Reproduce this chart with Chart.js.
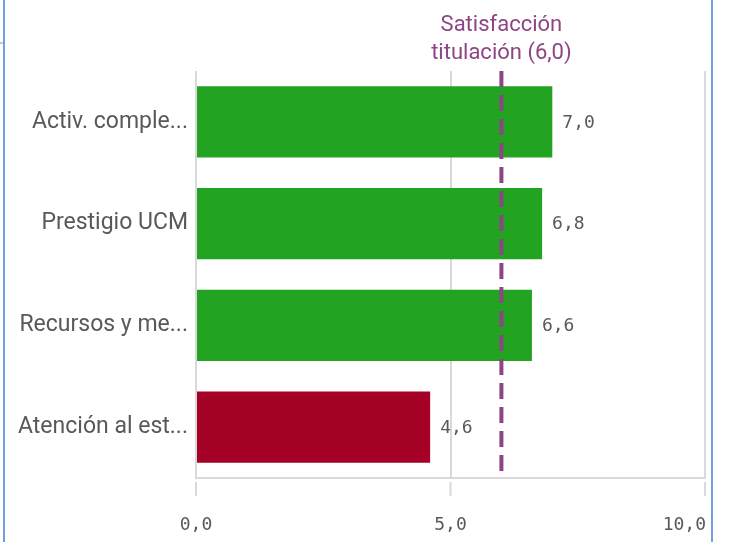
<!DOCTYPE html>
<html>
<head>
<meta charset="utf-8">
<script src="https://cdn.jsdelivr.net/npm/chart.js@4.4.0/dist/chart.umd.min.js"></script>
<style>
    html, body { margin: 0; padding: 0; background: #fff; }
    #wrap { position: relative; width: 736px; height: 542px; }
    #wrap canvas { position: absolute; left: 0; top: 0; }
    .edge { position: absolute; top: 0; width: 2px; height: 542px; background: #6f9fdc; }
    .stub { position: absolute; left: 0; top: 42px; width: 3px; height: 2px; background: #c8c8c8; }
</style>
</head>
<body>
<div id="wrap">
    <canvas id="satChart" width="736" height="542"></canvas>
    <div class="stub"></div>
    <div class="edge" style="left:3px"></div>
    <div class="edge" style="left:711px"></div>
</div>
<script>
const categories = ['Activ. comple...', 'Prestigio UCM', 'Recursos y me...', 'Atención al est...'];
const scores = [7.0, 6.8, 6.6, 4.6];
const barColors = ['#22a322', '#22a322', '#22a322', '#a50026'];
const axisTicks = [0, 5, 10];
const refValue = 6.0;
const refLabel = ['Satisfacción', 'titulación (6,0)'];

const TEXT = '#595959';
const GRID = '#d9d9d9';
const PURPLE = '#8e4585';

const fmt = v => v.toFixed(1).replace('.', ',');

// value labels, x tick marks/labels and the dashed reference line
const overlay = {
    id: 'overlay',
    afterDatasetsDraw(chart) {
        const { ctx, chartArea, scales } = chart;
        const x = scales.x;
        ctx.save();

        // values next to each bar
        ctx.font = '18px "DejaVu Sans Mono"';
        ctx.fillStyle = TEXT;
        ctx.textAlign = 'left';
        ctx.textBaseline = 'middle';
        chart.getDatasetMeta(0).data.forEach((bar, i) => {
            ctx.fillText(fmt(scores[i]), bar.x + 10, bar.y + 1);
        });

        // tick marks under the axis, detached from the grid
        ctx.strokeStyle = GRID;
        ctx.lineWidth = 2;
        axisTicks.forEach((t, i) => {
            const px = x.getPixelForValue(t);
            ctx.beginPath();
            ctx.moveTo(px, chartArea.bottom + 4);
            ctx.lineTo(px, chartArea.bottom + 18);
            ctx.stroke();
            const last = i === axisTicks.length - 1;
            ctx.textAlign = last ? 'right' : 'center';
            ctx.fillText(fmt(t), last ? px + 1 : px, 525);
        });

        // reference line
        const rx = x.getPixelForValue(refValue);
        ctx.strokeStyle = PURPLE;
        ctx.lineWidth = 4;
        ctx.setLineDash([16, 8]);
        ctx.beginPath();
        ctx.moveTo(rx, chartArea.top);
        ctx.lineTo(rx, chartArea.bottom - 7);
        ctx.stroke();
        ctx.setLineDash([]);

        ctx.font = '22px Roboto';
        ctx.fillStyle = PURPLE;
        ctx.textAlign = 'center';
        ctx.fillText(refLabel[0], rx, 25);
        ctx.fillText(refLabel[1], rx, 53);
        ctx.restore();
    }
};

new Chart(document.getElementById('satChart'), {
    type: 'bar',
    data: {
        labels: categories,
        datasets: [{
            data: scores,
            backgroundColor: barColors,
            borderWidth: 0,
            barPercentage: 0.7,
            categoryPercentage: 1.0
        }]
    },
    options: {
        indexAxis: 'y',
        responsive: false,
        animation: false,
        layout: { padding: { top: 71, right: 31, left: 0, bottom: 0 } },
        plugins: {
            legend: { display: false },
            tooltip: { enabled: false }
        },
        scales: {
            x: {
                min: 0,
                max: 10,
                ticks: { stepSize: 5, display: false },
                grid: { color: GRID, lineWidth: 2, drawTicks: false },
                border: { display: true, color: GRID, width: 2 },
                afterFit: s => { s.height = 64; }
            },
            y: {
                grid: { display: false, drawTicks: false },
                border: { display: false },
                ticks: {
                    color: TEXT,
                    font: { family: 'Roboto', size: 23 },
                    padding: 8
                },
                afterFit: s => { s.width = 196; }
            }
        }
    },
    plugins: [overlay]
});
</script>
</body>
</html>
